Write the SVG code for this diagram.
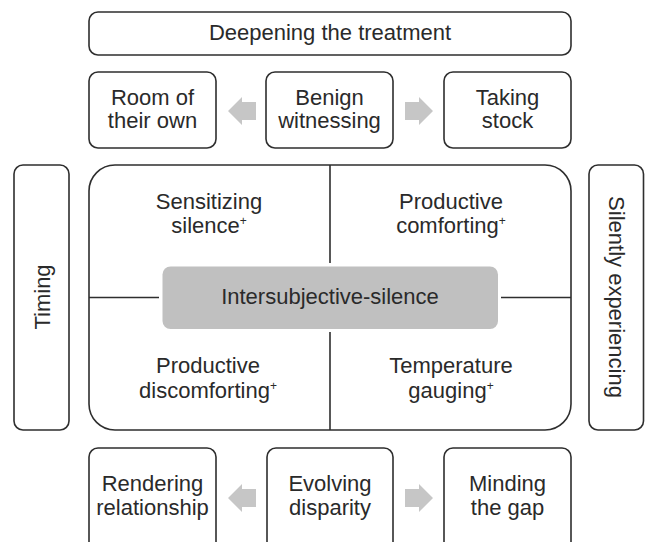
<svg xmlns="http://www.w3.org/2000/svg" width="645" height="542" viewBox="0 0 645 542">
<style>
.box{fill:#fff;stroke:#2e2e2e;stroke-width:1.6}
.t{font-family:"Liberation Sans",Arial,sans-serif;font-size:22px;fill:#2a2a2a;text-anchor:middle}
.sup{font-size:12px}
.ln{stroke:#2e2e2e;stroke-width:1.6;fill:none}
.ar{fill:#c6c6c6}
</style>
<defs>
<polygon id="arL" points="0,0 14,-14 14,-9 28,-9 28,9 14,9 14,14"/>
<polygon id="arR" points="28,0 14,-14 14,-9 0,-9 0,9 14,9 14,14"/>
</defs>
<g id="deepening"><rect class="box" x="89" y="12" width="482" height="43" rx="9"/><text class="t" x="330" y="39.5">Deepening the treatment</text></g>
<g id="room"><rect class="box" x="89" y="72" width="127" height="76" rx="9"/><text class="t" x="152.5" y="105">Room of</text><text class="t" x="152.5" y="128">their own</text></g>
<g id="benign"><rect class="box" x="266" y="72" width="127" height="76" rx="9"/><text class="t" x="329.5" y="105">Benign</text><text class="t" x="329.5" y="128">witnessing</text></g>
<g id="taking"><rect class="box" x="444" y="72" width="127" height="76" rx="9"/><text class="t" x="507.5" y="105">Taking</text><text class="t" x="507.5" y="128">stock</text></g>
<g id="timing"><rect class="box" x="14" y="165" width="55" height="265" rx="9"/><text class="t" transform="translate(50,297) rotate(-90)">Timing</text></g>
<g id="silently"><rect class="box" x="589" y="165" width="54.5" height="265" rx="9"/><text class="t" transform="translate(608.5,297) rotate(90)">Silently experiencing</text></g>
<g id="main">
<rect class="box" x="89" y="165" width="482" height="265" rx="26"/>
<line class="ln" x1="330" y1="165" x2="330" y2="263"/>
<line class="ln" x1="330" y1="332" x2="330" y2="430"/>
<line class="ln" x1="89" y1="297.5" x2="159" y2="297.5"/>
<line class="ln" x1="501" y1="297.5" x2="571" y2="297.5"/>
</g>
<g id="sensitizing"><text class="t" x="209" y="209">Sensitizing</text><text class="t" x="209" y="233">silence<tspan class="sup" dy="-8">+</tspan></text></g>
<g id="comforting"><text class="t" x="451" y="209">Productive</text><text class="t" x="451" y="233">comforting<tspan class="sup" dy="-8">+</tspan></text></g>
<g id="discomforting"><text class="t" x="208" y="373">Productive</text><text class="t" x="208" y="398">discomforting<tspan class="sup" dy="-8">+</tspan></text></g>
<g id="temperature"><text class="t" x="451" y="373">Temperature</text><text class="t" x="451" y="398">gauging<tspan class="sup" dy="-8">+</tspan></text></g>
<g id="intersubjective"><rect x="162.5" y="266.5" width="335.5" height="62.5" rx="8" fill="#c0c0c0"/><text class="t" x="330" y="303.5">Intersubjective-silence</text></g>
<g id="rendering"><rect class="box" x="89" y="448" width="127" height="104" rx="9"/><text class="t" x="152.5" y="491">Rendering</text><text class="t" x="152.5" y="515">relationship</text></g>
<g id="evolving"><rect class="box" x="267" y="448" width="126" height="104" rx="9"/><text class="t" x="330" y="491">Evolving</text><text class="t" x="330" y="515">disparity</text></g>
<g id="minding"><rect class="box" x="444" y="448" width="127" height="104" rx="9"/><text class="t" x="507.5" y="491">Minding</text><text class="t" x="507.5" y="515">the gap</text></g>
<g id="connectors">
<use href="#arL" class="ar" x="228" y="111"/>
<use href="#arR" class="ar" x="405" y="111"/>
<use href="#arL" class="ar" x="228" y="498"/>
<use href="#arR" class="ar" x="405" y="498"/>
</g>
</svg>
